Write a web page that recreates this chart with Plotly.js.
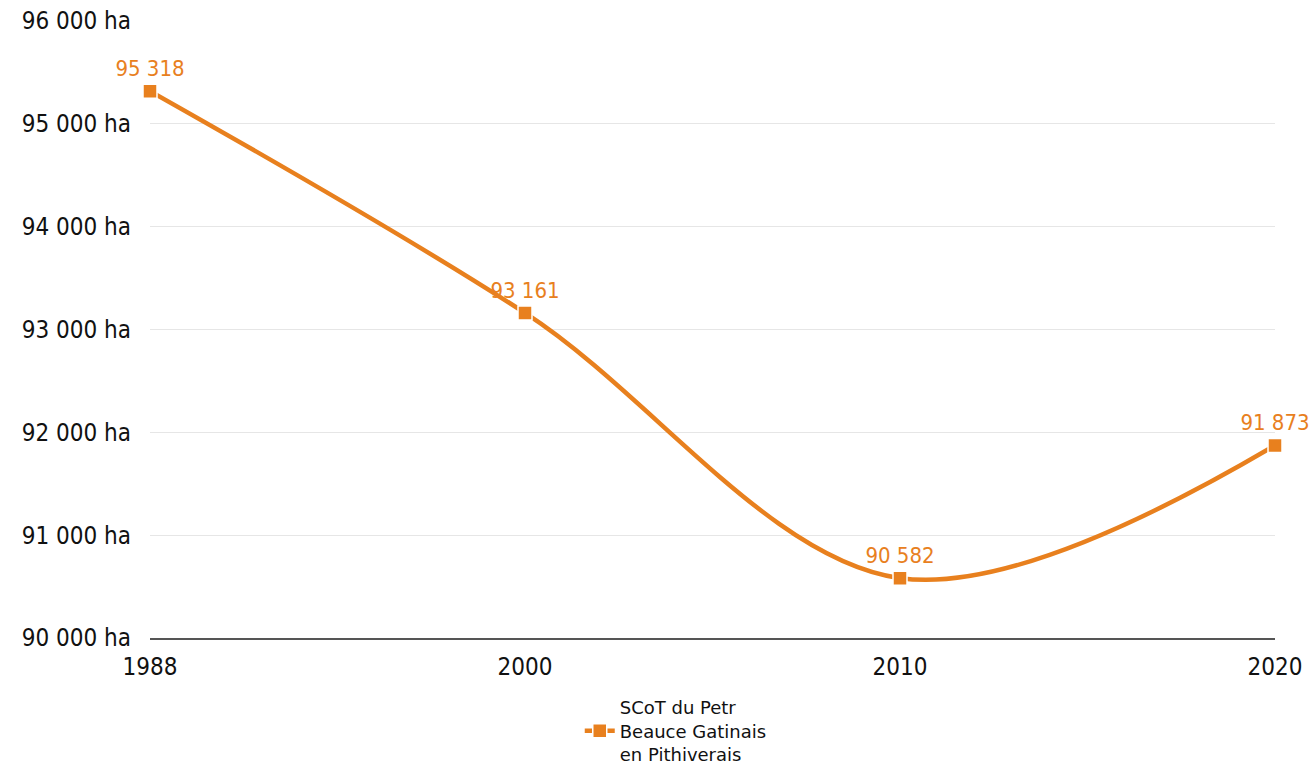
<!DOCTYPE html>
<html><head><meta charset="utf-8">
<script src="https://cdn.plot.ly/plotly-3.0.1.min.js"></script>
<style>html,body{margin:0;padding:0;background:#fff}</style>
</head><body><div id="chart" style="width:1309px;height:766px"></div>
<script>
const years = ["1988", "2000", "2010", "2020"];
const surface = [95318, 93161, 90582, 91873];
const seriesName = "SCoT du Petr<br>Beauce Gatinais<br>en Pithiverais";
const orange = "#E8801E";
const FONT = "'DejaVu Sans Condensed', 'DejaVu Sans', sans-serif";

Plotly.newPlot("chart", [{
  x: years, y: surface, type: "scatter", mode: "lines+markers+text",
  name: seriesName,
  line: {color: orange, width: 4.5, shape: "spline", smoothing: 1},
  marker: {symbol: "square", size: 14, color: orange, line: {color: "#ffffff", width: 1.5}},
  texttemplate: "%{y:,}", textposition: "top center",
  textfont: {family: FONT, size: 22, color: orange},
  cliponaxis: false
}], {
  width: 1309, height: 766,
  margin: {l: 150, r: 34, t: 21, b: 128, autoexpand: false},
  separators: ", ",
  paper_bgcolor: "#fff", plot_bgcolor: "#fff",
  font: {family: FONT, size: 24, color: "#111"},
  xaxis: {type: "category", range: [0, 3], showgrid: false, showline: true, linecolor: "#555", linewidth: 1.5,
    ticks: "", ticklabelstandoff: 6, tickfont: {size: 24, color: "#111"}, zeroline: false},
  yaxis: {range: [90000, 96000], dtick: 1000, tickformat: ",", ticksuffix: " ha",
    showgrid: true, gridcolor: "#e6e6e6", gridwidth: 1, zeroline: false, showline: false,
    ticks: "", ticklabelstandoff: 18, tickfont: {size: 24, color: "#111"}},
  showlegend: true,
  legend: {x: 0.382, y: -0.083, xanchor: "left", yanchor: "top", orientation: "h",
    font: {family: "'DejaVu Sans', sans-serif", size: 18, color: "#111"}, bgcolor: "rgba(0,0,0,0)"}
}, {displayModeBar: false});
</script></body></html>
